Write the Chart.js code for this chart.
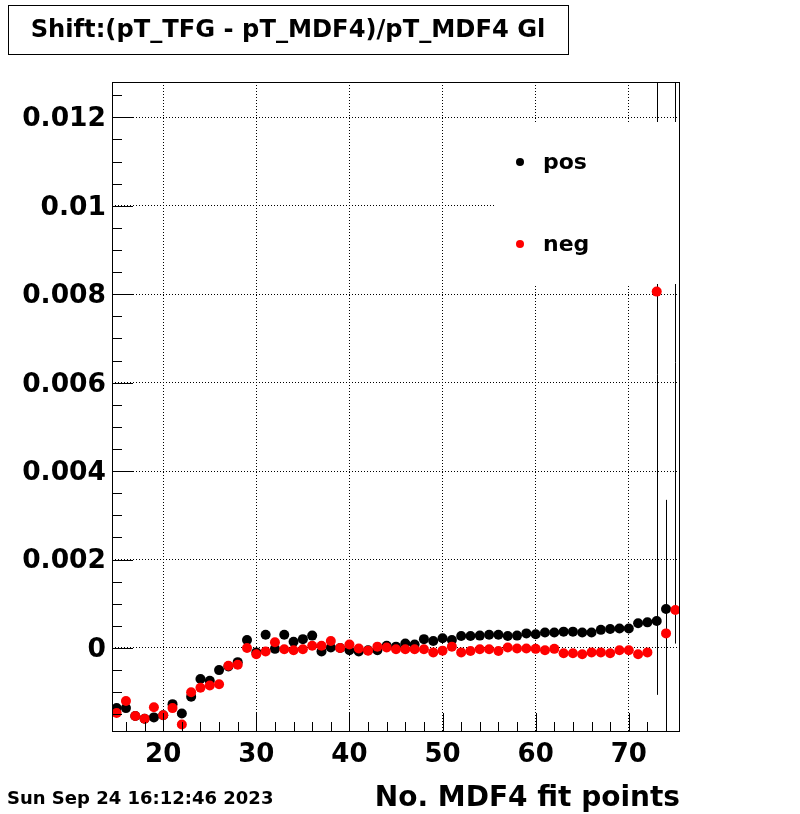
<!DOCTYPE html>
<html>
<head>
<meta charset="utf-8">
<title>Shift:(pT_TFG - pT_MDF4)/pT_MDF4 Gl</title>
<script src="https://cdn.jsdelivr.net/npm/chart.js@4.4.0/dist/chart.umd.min.js"></script>
<style>
  html, body { margin: 0; padding: 0; background: #fff; }
  canvas { display: block; }
</style>
</head>
<body>
<canvas id="shift-chart" width="800" height="814"></canvas>
<script>
const TITLE = 'Shift:(pT_TFG - pT_MDF4)/pT_MDF4 Gl';
const X_TITLE = 'No. MDF4 fit points';
const DATE_TEXT = 'Sun Sep 24 16:12:46 2023';

// number of MDF4 fit points (bin centres)
const bins = [
  15, 16, 17, 18, 19, 20, 21, 22, 23, 24, 25, 26, 27, 28, 29, 30,
  31, 32, 33, 34, 35, 36, 37, 38, 39, 40, 41, 42, 43, 44, 45,
  46, 47, 48, 49, 50, 51, 52, 53, 54, 55, 56, 57, 58, 59, 60,
  61, 62, 63, 64, 65, 66, 67, 68, 69, 70, 71, 72, 73, 74, 75
];

const posShift = [
  -0.00136, -0.00136, -0.00154, -0.00160, -0.00157, -0.00152, -0.00127, -0.00148,
  -0.00110, -0.00070, -0.00074, -0.00050, -0.00042, -0.00032, 0.00018, -0.00010,
  0.00030, -0.00002, 0.00030, 0.00014, 0.00020, 0.00028, -0.00008, 0.00001,
  0.00000, -0.00005, -0.00008, -0.00005, -0.00005, 0.00005, 0.00003,
  0.00010, 0.00008, 0.00020, 0.00016, 0.00022, 0.00018, 0.00027, 0.00027,
  0.00028, 0.00030, 0.00030, 0.00027, 0.00028, 0.00033, 0.00031,
  0.00035, 0.00035, 0.00037, 0.00037, 0.00035, 0.00035, 0.00041, 0.00043,
  0.00044, 0.00044, 0.00056, 0.00058, 0.00061, 0.00088, 0.01450
];

const negShift = [
  -0.00147, -0.00120, -0.00154, -0.00160, -0.00134, -0.00152, -0.00136, -0.00173,
  -0.00100, -0.00090, -0.00085, -0.00082, -0.00040, -0.00038, 0.00000, -0.00014,
  -0.00008, 0.00013, -0.00003, -0.00005, -0.00003, 0.00005, 0.00005, 0.00016,
  0.00000, 0.00008, -0.00001, -0.00006, 0.00003, 0.00001, -0.00003,
  -0.00003, -0.00003, -0.00003, -0.00010, -0.00006, 0.00003, -0.00010, -0.00007,
  -0.00003, -0.00003, -0.00007, 0.00001, -0.00001, -0.00001, -0.00002,
  -0.00005, -0.00002, -0.00012, -0.00012, -0.00014, -0.00010, -0.00010, -0.00012,
  -0.00005, -0.00005, -0.00014, -0.00010, 0.00806, 0.00033, 0.00086
];

// only the last bins have errors bigger than the marker
const errBins = [73, 74, 75];
const posErr = [0.00167, 0.00247, 0.0144];
const negErr = [0.0085, 0.0027, 0];

const xTicks = [20, 30, 40, 50, 60, 70];
const yTicks = [0, 0.002, 0.004, 0.006, 0.008, 0.01, 0.012];

const FONT = "'DejaVu Sans', sans-serif";

function toPoints(values) {
  return bins.map((b, i) => ({ x: b, y: values[i] }));
}

const rootStyle = {
  id: 'rootStyle',
  beforeDatasetsDraw(chart) {
    const { ctx, chartArea: a, scales: { x, y } } = chart;
    ctx.save();
    ctx.beginPath();
    ctx.rect(a.left, a.top, a.right - a.left, a.bottom - a.top);
    ctx.clip();
    ctx.strokeStyle = '#000';
    ctx.lineWidth = 1;
    const series = [[posShift, posErr], [negShift, negErr]];
    errBins.forEach((b, i) => {
      const k = bins.indexOf(b);
      series.forEach(([vals, errs]) => {
        if (!errs[i]) return;
        const px = Math.round(x.getPixelForValue(b)) + 0.5;
        ctx.beginPath();
        ctx.moveTo(px, y.getPixelForValue(vals[k] - errs[i]));
        ctx.lineTo(px, y.getPixelForValue(vals[k] + errs[i]));
        ctx.stroke();
      });
    });
    ctx.restore();
  },
  afterDatasetsDraw(chart) {
    const { ctx, chartArea: a, scales: { x, y } } = chart;
    ctx.save();

    // legend (white box on top of the frame content)
    ctx.fillStyle = '#fff';
    ctx.fillRect(495, 122, a.right - 495, 162);
    const entries = chart.data.datasets;
    entries.forEach((ds, i) => {
      const cy = i === 0 ? 162 : 244;
      ctx.fillStyle = ds.backgroundColor;
      ctx.beginPath();
      ctx.arc(520, cy, 4, 0, Math.PI * 2);
      ctx.fill();
      ctx.fillStyle = '#000';
      ctx.font = 'bold 22px ' + FONT;
      ctx.textAlign = 'left';
      ctx.textBaseline = 'middle';
      ctx.fillText(ds.label, 543, cy + 1);
    });

    // frame
    ctx.strokeStyle = '#000';
    ctx.lineWidth = 1;
    ctx.strokeRect(a.left + 0.5, a.top + 0.5, a.right - a.left - 1, a.bottom - a.top - 1);

    // ticks inside the frame, ROOT style
    ctx.beginPath();
    for (let v = 16; v <= 75; v += 2) {
      const px = Math.round(x.getPixelForValue(v)) + 0.5;
      const len = v % 10 === 0 ? 19 : 10;
      ctx.moveTo(px, a.bottom);
      ctx.lineTo(px, a.bottom - len);
    }
    for (let i = -3; i <= 25; i++) {
      const v = i * 0.0005;
      if (v < y.min || v > y.max) continue;
      const py = Math.round(y.getPixelForValue(v)) + 0.5;
      const len = i % 4 === 0 ? 21 : 10;
      ctx.moveTo(a.left, py);
      ctx.lineTo(a.left + len, py);
    }
    ctx.stroke();

    // title box
    ctx.strokeRect(8.5, 5.5, 560, 49);
    ctx.fillStyle = '#000';
    ctx.font = 'bold 24.2px ' + FONT;
    ctx.textAlign = 'center';
    ctx.textBaseline = 'middle';
    ctx.fillText(TITLE, 288, 31);

    // date stamp
    ctx.font = 'bold 18px ' + FONT;
    ctx.textAlign = 'left';
    ctx.fillText(DATE_TEXT, 7, 799);
    ctx.restore();
  }
};

const ctx = document.getElementById('shift-chart');

const shiftChart = new Chart(ctx, {
  type: 'scatter',
  data: {
    datasets: [{
      label: 'pos',
      data: toPoints(posShift),
      backgroundColor: '#000000',
      borderWidth: 0,
      pointRadius: 5,
      pointHoverRadius: 5,
      order: 2
    }, {
      label: 'neg',
      data: toPoints(negShift),
      backgroundColor: '#ff0000',
      borderWidth: 0,
      pointRadius: 5,
      pointHoverRadius: 5,
      order: 1
    }]
  },
  options: {
    responsive: false,
    animation: false,
    devicePixelRatio: 1,
    layout: {
      padding: { top: 82, right: 120, bottom: 0, left: 0 }
    },
    plugins: {
      legend: { display: false },
      tooltip: { enabled: false }
    },
    scales: {
      x: {
        type: 'linear',
        min: 14.5,
        max: 75.5,
        afterFit(scale) { scale.height = 82; },
        afterBuildTicks(scale) { scale.ticks = xTicks.map(v => ({ value: v })); },
        ticks: {
          color: '#000',
          font: { family: FONT, size: 26, weight: 'bold' },
          padding: 8,
          maxRotation: 0,
          autoSkip: false
        },
        grid: { color: '#000', lineWidth: 1, drawTicks: false },
        border: { display: false, dash: [1, 2] },
        title: {
          display: true,
          text: X_TITLE,
          align: 'end',
          color: '#000',
          font: { family: FONT, size: 28, weight: 'bold' },
          padding: { top: 0, bottom: -2 }
        }
      },
      y: {
        type: 'linear',
        min: -0.0019,
        max: 0.0128,
        afterFit(scale) { scale.width = 112; },
        afterBuildTicks(scale) { scale.ticks = yTicks.map(v => ({ value: v })); },
        ticks: {
          color: '#000',
          font: { family: FONT, size: 26.5, weight: 'bold' },
          padding: 6,
          labelOffset: 2,
          autoSkip: false,
          callback: v => String(Number(v.toFixed(4)))
        },
        grid: { color: '#000', lineWidth: 1, drawTicks: false },
        border: { display: false, dash: [1, 2] }
      }
    }
  },
  plugins: [rootStyle]
});
</script>
</body>
</html>
